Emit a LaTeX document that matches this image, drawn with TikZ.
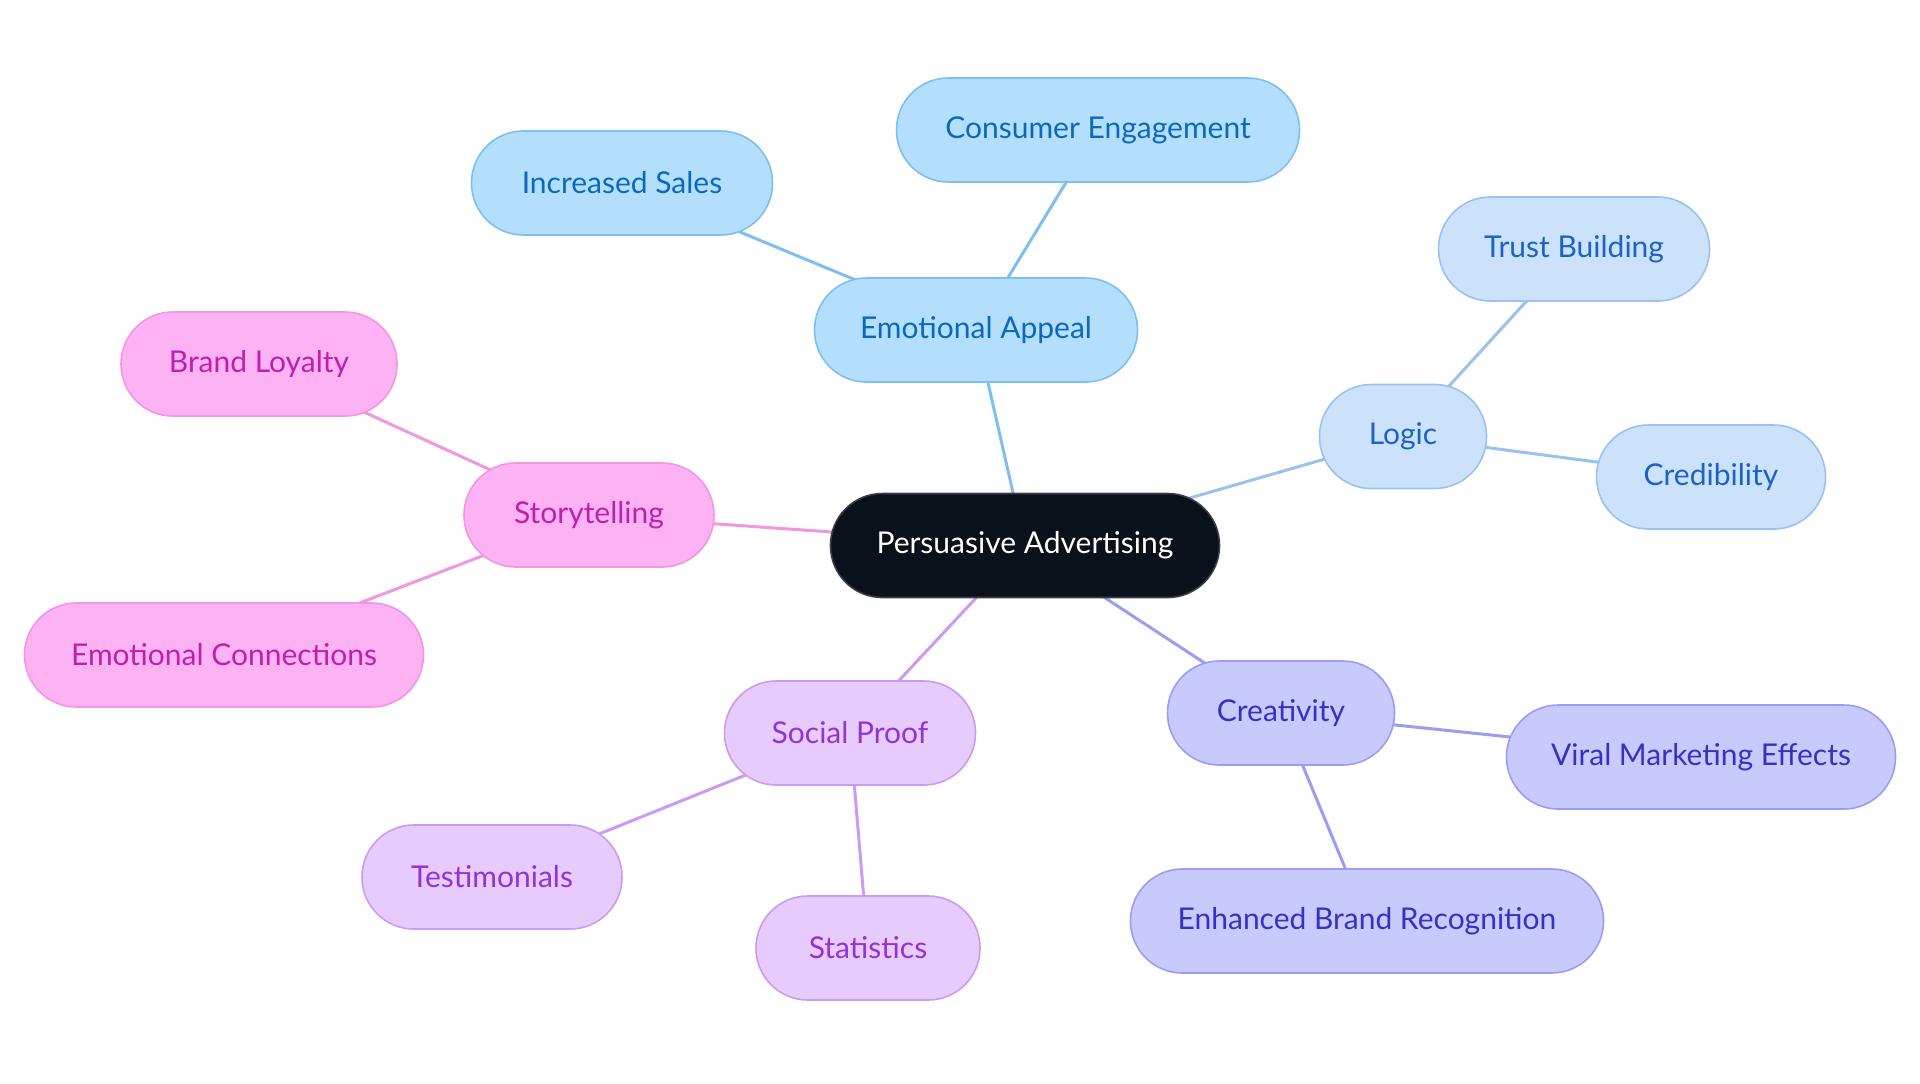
\documentclass[tikz,border=0pt]{standalone}
\usepackage{fontspec}
\setmainfont{Lato}
\usetikzlibrary{backgrounds}
\definecolor{rootfill}{HTML}{0B111B}
\definecolor{rootdraw}{HTML}{3A3F47}
\definecolor{bfill}{HTML}{B3DFFD}\definecolor{bdraw}{HTML}{7EBFF0}\definecolor{btext}{HTML}{0B68BF}
\definecolor{lfill}{HTML}{CCE2FB}\definecolor{ldraw}{HTML}{99C2F0}\definecolor{ltext}{HTML}{1B62C6}
\definecolor{pfill}{HTML}{FDB2F3}\definecolor{pdraw}{HTML}{F096E3}\definecolor{ptext}{HTML}{C21EAE}
\definecolor{vfill}{HTML}{E7CBFD}\definecolor{vdraw}{HTML}{CB9BF1}\definecolor{vtext}{HTML}{9133D8}
\definecolor{ifill}{HTML}{C8C9FC}\definecolor{idraw}{HTML}{9A9DF1}\definecolor{itext}{HTML}{3631C6}
\tikzset{
  pill/.style={rectangle, rounded corners=25.9pt, minimum height=52pt, inner sep=0pt, line width=0.8pt, font=\fontsize{15}{18}\selectfont},
  rootbox/.style={pill, fill=rootfill, draw=rootdraw, text=white},
  bbox/.style={pill, fill=bfill, draw=bdraw, text=btext},
  lbox/.style={pill, fill=lfill, draw=ldraw, text=ltext},
  pbox/.style={pill, fill=pfill, draw=pdraw, text=ptext},
  vbox/.style={pill, fill=vfill, draw=vdraw, text=vtext},
  ibox/.style={pill, fill=ifill, draw=idraw, text=itext},
  edge/.style={line width=1.5pt},
}
\begin{document}
\begin{tikzpicture}[x=0.5pt,y=-0.5pt]
\useasboundingbox (0,0) rectangle (1920,1083);
\node[rootbox, minimum width=194.5pt] (pa) at (1025,545.5) {Persuasive Advertising};
\node[bbox, minimum width=161.5pt] (ea) at (976,330) {Emotional Appeal};
\node[bbox, minimum width=150.5pt] (is) at (622,183) {Increased Sales};
\node[bbox, minimum width=201.5pt] (ce) at (1098,130) {Consumer Engagement};
\node[lbox, minimum width=83.5pt] (lo) at (1403,436.5) {Logic};
\node[lbox, minimum width=135.5pt] (tb) at (1574,249) {Trust Building};
\node[lbox, minimum width=114.5pt] (cr) at (1711,477) {Credibility};
\node[pbox, minimum width=125pt] (st) at (589,515) {Storytelling};
\node[pbox, minimum width=138pt] (bl) at (259,364) {Brand Loyalty};
\node[pbox, minimum width=199.5pt] (ec) at (224,655) {Emotional Connections};
\node[vbox, minimum width=125.5pt] (sp) at (850,733) {Social Proof};
\node[vbox, minimum width=130pt] (te) at (492,877) {Testimonials};
\node[vbox, minimum width=112pt] (sa) at (868,948) {Statistics};
\node[ibox, minimum width=113.5pt] (cv) at (1281,713) {Creativity};
\node[ibox, minimum width=194.5pt] (vm) at (1701,757) {Viral Marketing Effects};
\node[ibox, minimum width=236.5pt] (eb) at (1367,921) {Enhanced Brand Recognition};
\begin{pgfonlayer}{background}
\fill[white] (0,0) rectangle (1920,1083);
\draw[edge, bdraw] (pa.center) -- (ea.center);
\draw[edge, bdraw] (ea.center) -- (is.center);
\draw[edge, bdraw] (ea.center) -- (ce.center);
\draw[edge, ldraw] (pa.center) -- (lo.center);
\draw[edge, ldraw] (lo.center) -- (tb.center);
\draw[edge, ldraw] (lo.center) -- (cr.center);
\draw[edge, pdraw] (pa.center) -- (st.center);
\draw[edge, pdraw] (st.center) -- (bl.center);
\draw[edge, pdraw] (st.center) -- (ec.center);
\draw[edge, vdraw] (pa.center) -- (sp.center);
\draw[edge, vdraw] (sp.center) -- (te.center);
\draw[edge, vdraw] (sp.center) -- (sa.center);
\draw[edge, idraw] (pa.center) -- (cv.center);
\draw[edge, idraw] (cv.center) -- (vm.center);
\draw[edge, idraw] (cv.center) -- (eb.center);
\end{pgfonlayer}
\end{tikzpicture}
\end{document}
